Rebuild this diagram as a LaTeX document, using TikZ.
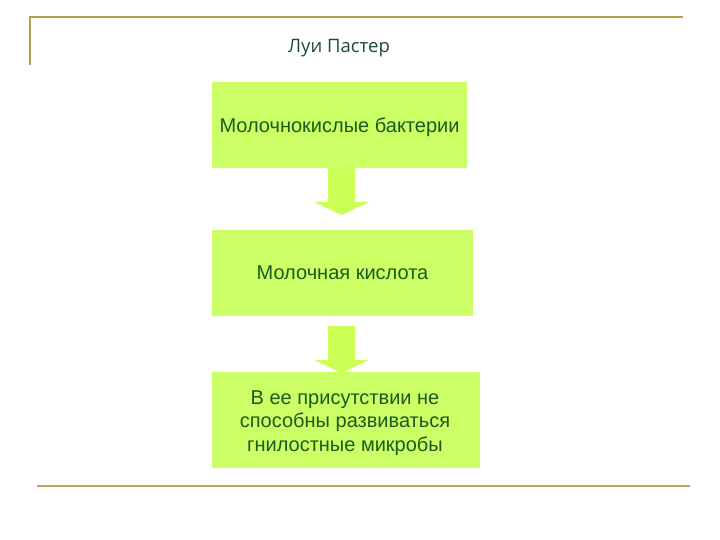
\documentclass[tikz,border=0pt]{standalone}
\usepackage{fontspec}
\setmainfont{Liberation Sans}
\newfontfamily\titlefont{Open Sans}
\definecolor{boxfill}{HTML}{CCFF66}
\definecolor{arrowfill}{HTML}{CCFF55}
\definecolor{boxtext}{HTML}{1C5A1C}
\definecolor{titletext}{HTML}{1A4A3A}
\definecolor{rule}{HTML}{B8A048}
\definecolor{rulebottom}{HTML}{C0A060}
\tikzset{
  stepbox/.style={fill=boxfill, draw=none, inner sep=0pt, align=center,
    text=boxtext, font=\fontsize{20}{23.5}\selectfont},
  steplabel/.style={inner sep=0pt, align=center, text=boxtext,
    font=\fontsize{20}{23.5}\selectfont},
  flowarrow/.style={fill=arrowfill, draw=none}
}
\begin{document}
\begin{tikzpicture}[x=1pt,y=1pt]
\useasboundingbox (0,0) rectangle (720,-540);
% rules
\draw[rule, line width=2.2pt] (30,-65) -- (30,-17) -- (683,-17);
\draw[rulebottom, line width=2.2pt] (37,-486) -- (690,-486);
% title
\node[text=titletext, font=\titlefont\fontsize{18.5}{22}\selectfont] (title) at (339,-48) {Луи Пастер};
% boxes
\node[stepbox, minimum width=255, minimum height=86] (b1) at (339.5,-125) {};
\node[steplabel] (t1) at (339.5,-127) {Молочнокислые бактерии};
\node[stepbox, minimum width=261, minimum height=86] (b2) at (342.5,-273) {};
\node[steplabel] (t2) at (342.5,-273) {Молочная кислота};
\node[stepbox, minimum width=268, minimum height=96] (b3) at (346,-420) {};
\node[steplabel] (t3) at (345,-423) {В ее присутствии не\\способны развиваться\\гнилостные микробы};
% arrows
\fill[flowarrow] (328,-168) -- (355,-168) -- (355,-202) -- (369,-202) -- (341.5,-215) -- (314,-202) -- (328,-202) -- cycle;
\fill[flowarrow] (328,-326) -- (355,-326) -- (355,-360) -- (369,-360) -- (341.5,-373) -- (314,-360) -- (328,-360) -- cycle;
\end{tikzpicture}
\end{document}
